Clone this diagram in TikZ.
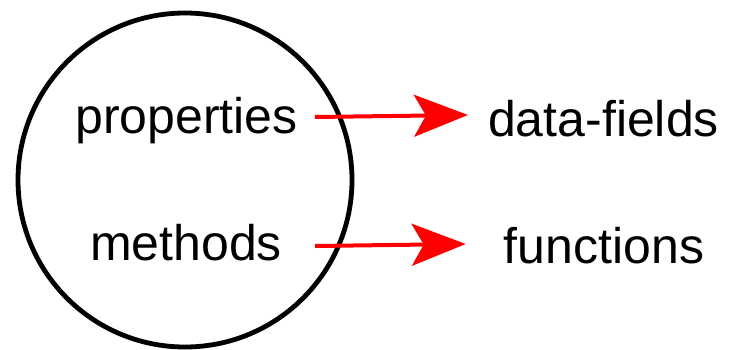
\documentclass[tikz,border=0pt]{standalone}
\usepackage{fontspec}
\setmainfont{Liberation Sans}
\usetikzlibrary{arrows.meta,calc}
\begin{document}
\begin{tikzpicture}[x=1pt,y=-1pt,
  lbl/.style={font=\fontsize{50}{50}\selectfont, inner sep=0pt, anchor=base},
  arr/.style={draw=red, line width=4pt, -{Stealth[length=54pt,width=42pt,inset=12pt,fill=red]}}]
\useasboundingbox (0,0) rectangle (730,349);
\node[draw=black, line width=4.8pt, circle, minimum size=334pt, inner sep=0pt] (obj) at (185,180) {};
\node[lbl] (p) at (186.5,133) {properties};
\node[lbl] (m) at (186,260) {methods};
\node[lbl] (df) at (603.5,136) {data-fields};
\node[lbl] (fn) at (604,263) {functions};
\draw[arr] ($(p.base east)+(17,-16)$) -- ($(df.base west)+(-20,-21)$);
\draw[arr] ($(m.base east)+(33,-14)$) -- ($(fn.base west)+(-38,-19)$);
\end{tikzpicture}
\end{document}
